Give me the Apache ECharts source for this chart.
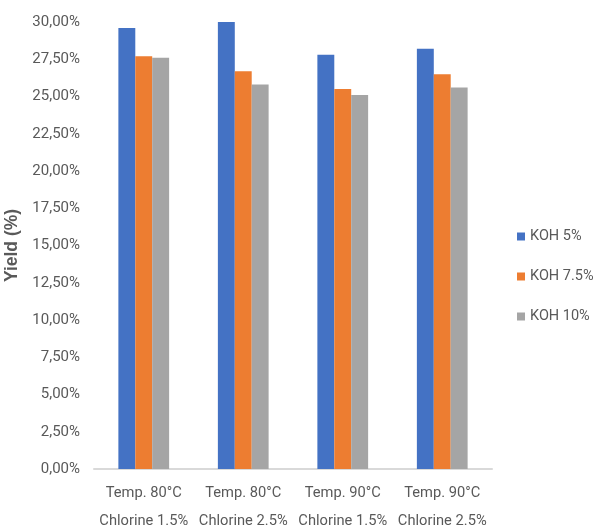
<!DOCTYPE html>
<html>
<head>
<meta charset="utf-8">
<style>
  html, body { margin: 0; padding: 0; background: #fff; }
  #chart { width: 593px; height: 531px; }
</style>
<script src="https://cdn.jsdelivr.net/npm/echarts@6/dist/echarts.min.js"></script>
</head>
<body>
<div id="chart"></div>
<script>
// Yield by process condition and KOH concentration
const categories = [
  'Temp. 80°C\nChlorine 1.5%',
  'Temp. 80°C\nChlorine 2.5%',
  'Temp. 90°C\nChlorine 1.5%',
  'Temp. 90°C\nChlorine 2.5%'
];
const seriesNames = ['KOH 5%', 'KOH 7.5%', 'KOH 10%'];
const koh5 = [29.6, 30.0, 27.8, 28.2];
const koh75 = [27.7, 26.7, 25.5, 26.5];
const koh10 = [27.6, 25.8, 25.1, 25.6];
const colors = ['#4472C4', '#ED7D31', '#A5A5A5'];

const FONT = '"Liberation Sans Narrow", Roboto, "Liberation Sans", sans-serif';
const TEXT = '#595959';

const chart = echarts.init(document.getElementById('chart'));
const values = [koh5, koh75, koh10];

chart.setOption({
  animation: false,
  grid: { left: 94, right: 101, top: 22, bottom: 62, outerBoundsMode: 'none', containLabel: false },
  legend: {
    orient: 'vertical',
    left: 512,
    top: 224,
    itemWidth: 8,
    itemHeight: 8,
    itemGap: 25,
    icon: 'rect',
    textStyle: { color: TEXT, fontSize: 14.5, fontFamily: FONT },
    data: seriesNames
  },
  xAxis: {
    type: 'category',
    data: categories,
    axisLine: { lineStyle: { color: '#D9D9D9', width: 2 } },
    axisTick: { show: false },
    axisLabel: {
      color: TEXT, fontSize: 14.7, fontFamily: FONT,
      lineHeight: 28, margin: 10, interval: 0
    }
  },
  yAxis: {
    type: 'value',
    min: 0, max: 30, interval: 2.5,
    name: 'Yield (%)',
    nameLocation: 'middle',
    nameGap: 62,
    nameRotate: 90,
    nameTextStyle: { color: TEXT, fontSize: 17.5, fontWeight: 'bold', fontFamily: '"Liberation Sans", sans-serif' },
    splitLine: { show: false },
    axisLine: { show: false },
    axisTick: { show: false },
    axisLabel: {
      color: TEXT, fontSize: 15, fontFamily: FONT, margin: 14,
      formatter: v => v.toFixed(2).replace('.', ',') + '%'
    }
  },
  series: seriesNames.map((name, i) => ({
    name,
    type: 'bar',
    data: values[i],
    barGap: '0%',
    barCategoryGap: '49%',
    itemStyle: { color: colors[i] }
  }))
});
</script>
</body>
</html>
